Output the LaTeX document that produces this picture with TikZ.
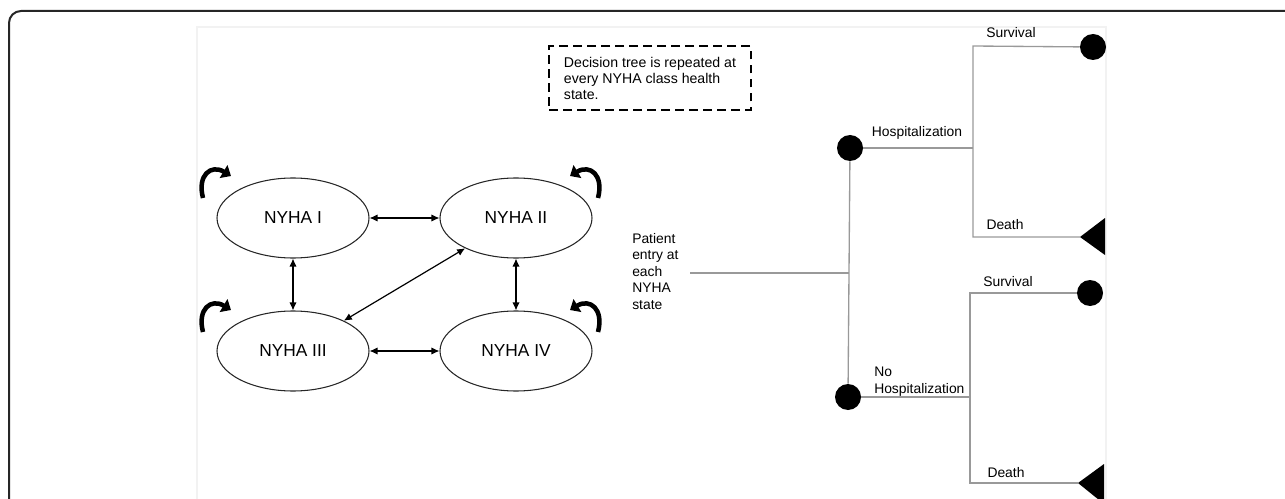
\documentclass[tikz,border=0pt]{standalone}
\usepackage{fontspec}
\setmainfont{Liberation Sans}
\usetikzlibrary{shapes.geometric,arrows.meta}
\begin{document}
\begin{tikzpicture}[x=0.75pt,y=-0.75pt,
  state/.style={ellipse,draw=black!85,line width=0.8pt,minimum width=114pt,minimum height=60pt,inner sep=0pt,font=\fontsize{13}{15}\selectfont},
  biarrow/.style={{Latex[length=6pt,width=5.5pt]}-{Latex[length=6pt,width=5.5pt]},line width=0.9pt},
  selfloop/.style={line width=3.4pt,-{Triangle[length=6.5pt,width=11pt]}},
  branch/.style={draw=black!40,line width=1pt},
  chance/.style={circle,fill=black,minimum size=19.5pt,inner sep=0pt},
  lbl/.style={font=\fontsize{10.4}{12.4}\selectfont,inner sep=0pt,text=black},
  notebox/.style={draw=black,line width=1.7pt,dash pattern=on 6.5pt off 4pt,font=\fontsize{10.6}{12}\selectfont,text=black,inner xsep=11pt,inner ysep=0pt,minimum width=150pt,minimum height=48pt,align=left}
]
\useasboundingbox (0,0) rectangle (1285,499);
\clip (0,0) rectangle (1285,499);
\draw[black!5,line width=0.8pt] (197,27) rectangle (1106,530);
\draw[black!85,line width=1.5pt,rounded corners=9pt] (9,11) rectangle (1320,540);

% Markov states
\node[state] (n1) at (293,218) {NYHA I};
\node[state] (n2) at (516,218) {NYHA II};
\node[state] (n3) at (293,351) {NYHA III};
\node[state] (n4) at (516,351) {NYHA IV};
\draw[biarrow] (n1) -- (n2);
\draw[biarrow] (n1) -- (n3);
\draw[biarrow] (n2) -- (n4);
\draw[biarrow] (n3) -- (n4);
\draw[biarrow] (n2) -- (n3);

% self loops
\coordinate (l1a) at (203,198); \coordinate (l1b) at (231,176);
\coordinate (l2a) at (598,198); \coordinate (l2b) at (570,176);
\coordinate (l3a) at (203,332); \coordinate (l3b) at (231,310);
\coordinate (l4a) at (598,332); \coordinate (l4b) at (570,310);
\draw[selfloop] (l1a) .. controls (197,175) and (211,164) .. (l1b);
\draw[selfloop] (l2a) .. controls (604,175) and (590,164) .. (l2b);
\draw[selfloop] (l3a) .. controls (197,309) and (211,298) .. (l3b);
\draw[selfloop] (l4a) .. controls (604,309) and (590,298) .. (l4b);

% note
\node[notebox] (note) at (650,78) {Decision tree is repeated at\\every NYHA class health\\state.};

% decision tree
\node[lbl,align=left,anchor=north west] (entry) at (632,233) {Patient\\entry at\\each\\NYHA\\state};
\coordinate (e0) at (690,273);
\coordinate (j0) at (849,273);
\node[chance] (c1) at (850,148) {};
\node[chance] (c2) at (848,397) {};
\node[chance] (s1) at (1093,47) {};
\node[chance] (s2) at (1090,293) {};
\coordinate (d1) at (1080,237);
\coordinate (d2) at (1078,483);
\coordinate (j1t) at (973,46);
\coordinate (j1) at (973,148);
\coordinate (j1b) at (973,237);
\coordinate (j2t) at (970,293);
\coordinate (j2) at (970,397);
\coordinate (j2b) at (970,483);

\draw[branch] (e0) -- (j0);
\draw[branch] (c1) -- (c2);
\draw[branch] (c1) -- (j1);
\draw[branch] (s1) -- (j1t) -- (j1b) -- (d1);
\draw[branch] (c2) -- (j2);
\draw[branch] (s2) -- (j2t) -- (j2b) -- (d2);
\fill (d1) -- ++(25,-19) -- ++(0,37) -- cycle;
\fill (d2) -- ++(26,-19) -- ++(0,40) -- cycle;

\node[lbl,anchor=base] (hosp) at (917,137) {Hospitalization};
\node[lbl,align=left,anchor=north west] (nohosp) at (874,367) {No\\Hospitalization};
\node[lbl,anchor=base] (surv1) at (1011,38) {Survival};
\node[lbl,anchor=base] (death1) at (1005,229) {Death};
\node[lbl,anchor=base] (surv2) at (1008,286) {Survival};
\node[lbl,anchor=base] (death2) at (1006,477) {Death};
\end{tikzpicture}
\end{document}
